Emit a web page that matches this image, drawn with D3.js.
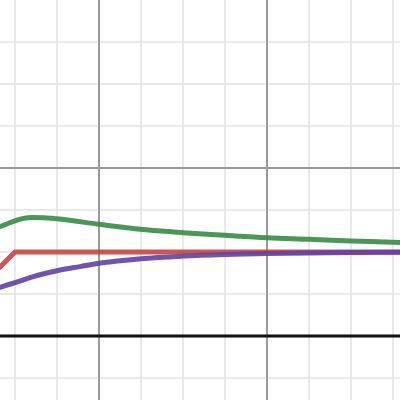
<!DOCTYPE html>
<html>
<head>
<meta charset="utf-8">
<script src="https://cdn.jsdelivr.net/npm/d3@7"></script>
<style>
  html, body { margin: 0; padding: 0; background: #fff; }
  svg { display: block; }
</style>
</head>
<body>
<script>
// grid positions (graph units)
var minorX = [1, 1.5, 2.5, 3, 3.5, 4.5, 5, 5.5];
var majorX = [2, 4];
var minorY = [-0.5, 0.5, 1, 1.5, 2.5, 3, 3.5];
var majorY = [2];

// curves
var redX = [0.82, 1, 5.6];
var redY = [0.82, 1, 1];

var greenX = [0.82, 1, 1.1, 1.21, 1.35, 1.5, 2, 2.5, 3, 3.5, 4, 4.5, 5, 5.5, 5.6];
var greenY = [1.30, 1.37, 1.40, 1.412, 1.408, 1.395, 1.33, 1.27, 1.23, 1.199, 1.17, 1.151, 1.131, 1.115, 1.111];

var purpleX = [0.82, 1, 1.21, 1.5, 1.77, 2, 2.25, 2.5, 3, 3.5, 4, 4.5, 5, 5.6];
var purpleY = [0.58, 0.635, 0.705, 0.777, 0.826, 0.865, 0.895, 0.92, 0.951, 0.97, 0.982, 0.989, 0.993, 0.996];

var width = 400, height = 400;

var x = d3.scaleLinear().domain([69 / 84, 469 / 84]).range([0, width]);
var y = d3.scaleLinear().domain([-64 / 84, 336 / 84]).range([height, 0]);

var svg = d3.select("body").append("svg")
    .attr("width", width)
    .attr("height", height);

var grid = svg.append("g").attr("class", "grid");

// minor lines
grid.selectAll(".vminor").data(minorX).enter().append("line")
    .attr("x1", function(d){ return x(d); }).attr("x2", function(d){ return x(d); })
    .attr("y1", 0).attr("y2", height)
    .attr("stroke", "#e2e2e2").attr("stroke-width", 1.5);
grid.selectAll(".hminor").data(minorY).enter().append("line")
    .attr("y1", function(d){ return y(d); }).attr("y2", function(d){ return y(d); })
    .attr("x1", 0).attr("x2", width)
    .attr("stroke", "#e2e2e2").attr("stroke-width", 1.5);

// major lines
grid.selectAll(".vmajor").data(majorX).enter().append("line")
    .attr("x1", function(d){ return x(d); }).attr("x2", function(d){ return x(d); })
    .attr("y1", 0).attr("y2", height)
    .attr("stroke", "#9a9a9a").attr("stroke-width", 2);
grid.selectAll(".hmajor").data(majorY).enter().append("line")
    .attr("y1", function(d){ return y(d); }).attr("y2", function(d){ return y(d); })
    .attr("x1", 0).attr("x2", width)
    .attr("stroke", "#9a9a9a").attr("stroke-width", 2);

// x axis
svg.append("line")
    .attr("x1", 0).attr("x2", width)
    .attr("y1", y(0)).attr("y2", y(0))
    .attr("stroke", "#111").attr("stroke-width", 3);

function drawCurve(xs, ys, color, curve){
    var pts = xs.map(function(d, i){ return [d, ys[i]]; });
    var line = d3.line()
        .x(function(d){ return x(d[0]); })
        .y(function(d){ return y(d[1]); })
        .curve(curve);
    svg.append("path")
        .datum(pts)
        .attr("d", line)
        .attr("fill", "none")
        .attr("stroke", color)
        .attr("stroke-opacity", 0.9)
        .attr("stroke-width", 5)
        .attr("stroke-linejoin", "round")
        .attr("stroke-linecap", "round");
}

drawCurve(greenX, greenY, "#388c46", d3.curveMonotoneX);
drawCurve(redX, redY, "#c74440", d3.curveLinear);
drawCurve(purpleX, purpleY, "#6042a6", d3.curveMonotoneX);
</script>
</body>
</html>
